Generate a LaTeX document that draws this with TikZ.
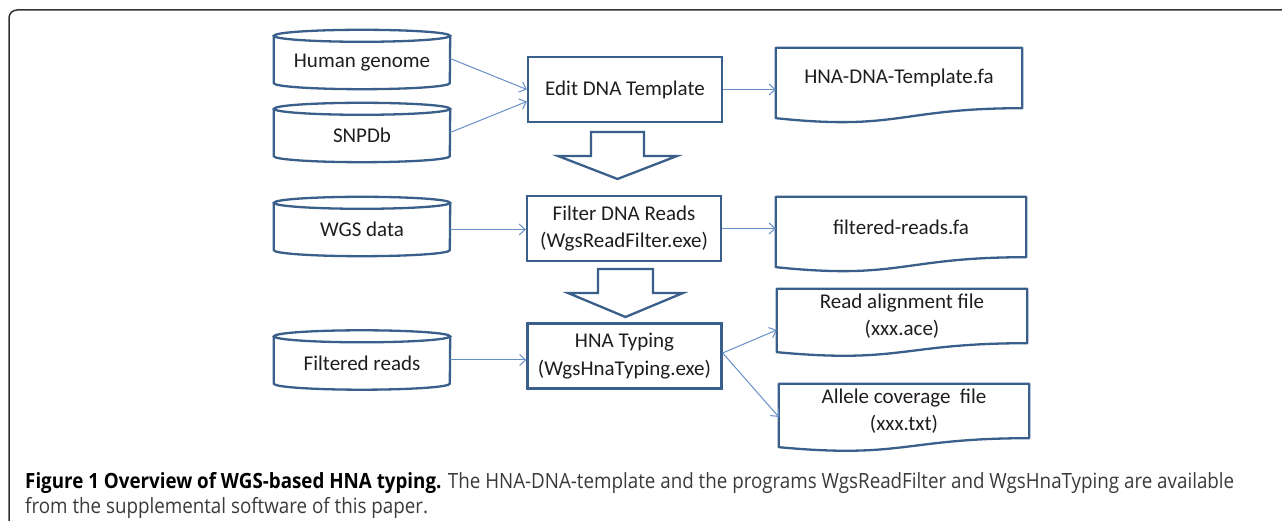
\documentclass[tikz,border=0pt]{standalone}
\usepackage{fontspec}
\usepackage{graphicx}
\setmainfont{Carlito}
\newfontfamily\capfont{Open Sans}
\usetikzlibrary{arrows.meta,calc}
\definecolor{outl}{HTML}{3A5F8B}
\definecolor{arr}{HTML}{6690C8}
\definecolor{txt}{HTML}{1E1E1E}
\definecolor{framec}{HTML}{333333}
\definecolor{capgray}{HTML}{3A3A3A}
\newlength\capw
\newcommand\capone{{\bfseries\color{black}Figure 1 Overview of WGS-based HNA typing.} The HNA-DNA-template and the programs WgsReadFilter and WgsHnaTyping are available}
\newcommand\dbdraw[1]{%
  \draw[dbline] (#1.north) ellipse[x radius=88pt, y radius=6pt];
  \draw[dbline] (#1.north west) -- ([yshift=6pt]#1.south west)
     arc[start angle=180, end angle=360, x radius=88pt, y radius=6pt]
     -- (#1.north east);}
\newcommand\docdraw[1]{%
  \draw[dbline, line join=round] (#1.north west) -- (#1.north east) -- (#1.south east)
     .. controls (#1.south) and ($(#1.south)!-0.38!(#1.north)$) ..
     ($(#1.south west)!-0.165!(#1.north west)$) -- cycle;}
\tikzset{
  lbl/.style={font=\fontsize{21}{27.5}\selectfont, text=txt, align=center, inner sep=0pt},
  db/.style={lbl, minimum width=176pt, minimum height=53pt},
  proc/.style={lbl, draw=outl, line width=2.3pt, minimum width=194pt, minimum height=65pt},
  docbox/.style={lbl, minimum height=#1},
  dbline/.style={draw=outl, line width=2.3pt},
  link/.style={draw=arr, line width=1pt, -{Straight Barb[length=6pt,width=11pt]}},
  blockarrow/.style={draw=outl, line width=2.3pt, line join=miter, fill=white},
  captext/.style={anchor=base west, inner sep=0pt, text=capgray, font=\capfont\fontsize{21}{24}\selectfont}
}
\begin{document}
\begin{tikzpicture}[x=1pt,y=1pt]
\useasboundingbox (0,0) rectangle (1282,521);
% frame
\draw[framec, line width=1.5pt] (1284,511) -- (17,511) arc[start angle=90, end angle=180, radius=8] -- (9,-2);
% databases
\node[db] (hg) at (362,458.5) {Human genome};
\node[db] (snp) at (362,385.5) {SNPDb};
\node[db] (wgs) at (362,291.5) {WGS data};
\node[db] (fr) at (362,158) {Filtered reads};
\dbdraw{hg}\dbdraw{snp}\dbdraw{wgs}\dbdraw{fr}
% process boxes
\node[proc] (edit) at (625,431.5) {Edit DNA Template};
\node[proc] (filt) at (624,292.5) {Filter DNA Reads\\(WgsReadFilter.exe)};
\node[proc] (hna) at (624.5,165) {HNA Typing\\(WgsHnaTyping.exe)};
% documents
\node[docbox=60pt, minimum width=246pt] (d1) at (899,443) {HNA-DNA-Template.fa};
\node[docbox=60pt, minimum width=250pt] (d2) at (901,294) {filtered-reads.fa};
\node[docbox=54pt, minimum width=250pt] (ra) at (902,205) {Read alignment file\\(xxx.ace)};
\node[docbox=54pt, minimum width=250pt] (al) at (904,110) {Allele coverage~ file\\(xxx.txt)};
\docdraw{d1}\docdraw{d2}\docdraw{ra}\docdraw{al}
% block arrows
\draw[blockarrow] (591,389) -- (644,389) -- (644,365) -- (677,365) -- (617.5,342) -- (558,365) -- (591,365) -- cycle;
\draw[blockarrow] (598,252) -- (653,252) -- (653,228) -- (683,228) -- (625.5,204) -- (568,228) -- (598,228) -- cycle;
% connectors
\draw[link] ([yshift=4pt]hg.east) -- (edit.west);
\draw[link] ([yshift=3pt]snp.east) -- ([yshift=-12pt]edit.west);
\draw[link] (edit.east) -- (edit.east -| d1.west);
\draw[link] (wgs.east) -- (wgs.east -| filt.west);
\draw[link] (filt.east) -- (filt.east -| d2.west);
\draw[link] ([yshift=3pt]fr.east) -- ([yshift=3pt]fr.east -| hna.west);
\draw[link] ([yshift=3pt]hna.east) -- ([yshift=-14pt]ra.west);
\draw[link] ([yshift=3pt]hna.east) -- ([yshift=-6pt]al.west);
% caption
\node[captext] (cap1) at (25,32)
  {\settowidth\capw{\capone}\pgfmathsetmacro\capsx{1209pt/\capw}\xdef\capsxg{\capsx}\scalebox{\capsx}[1]{\capone}};
\node[captext] (cap2) at (25,7)
  {\scalebox{\capsxg}[1]{from the supplemental software of this paper.}};
\end{tikzpicture}
\end{document}
